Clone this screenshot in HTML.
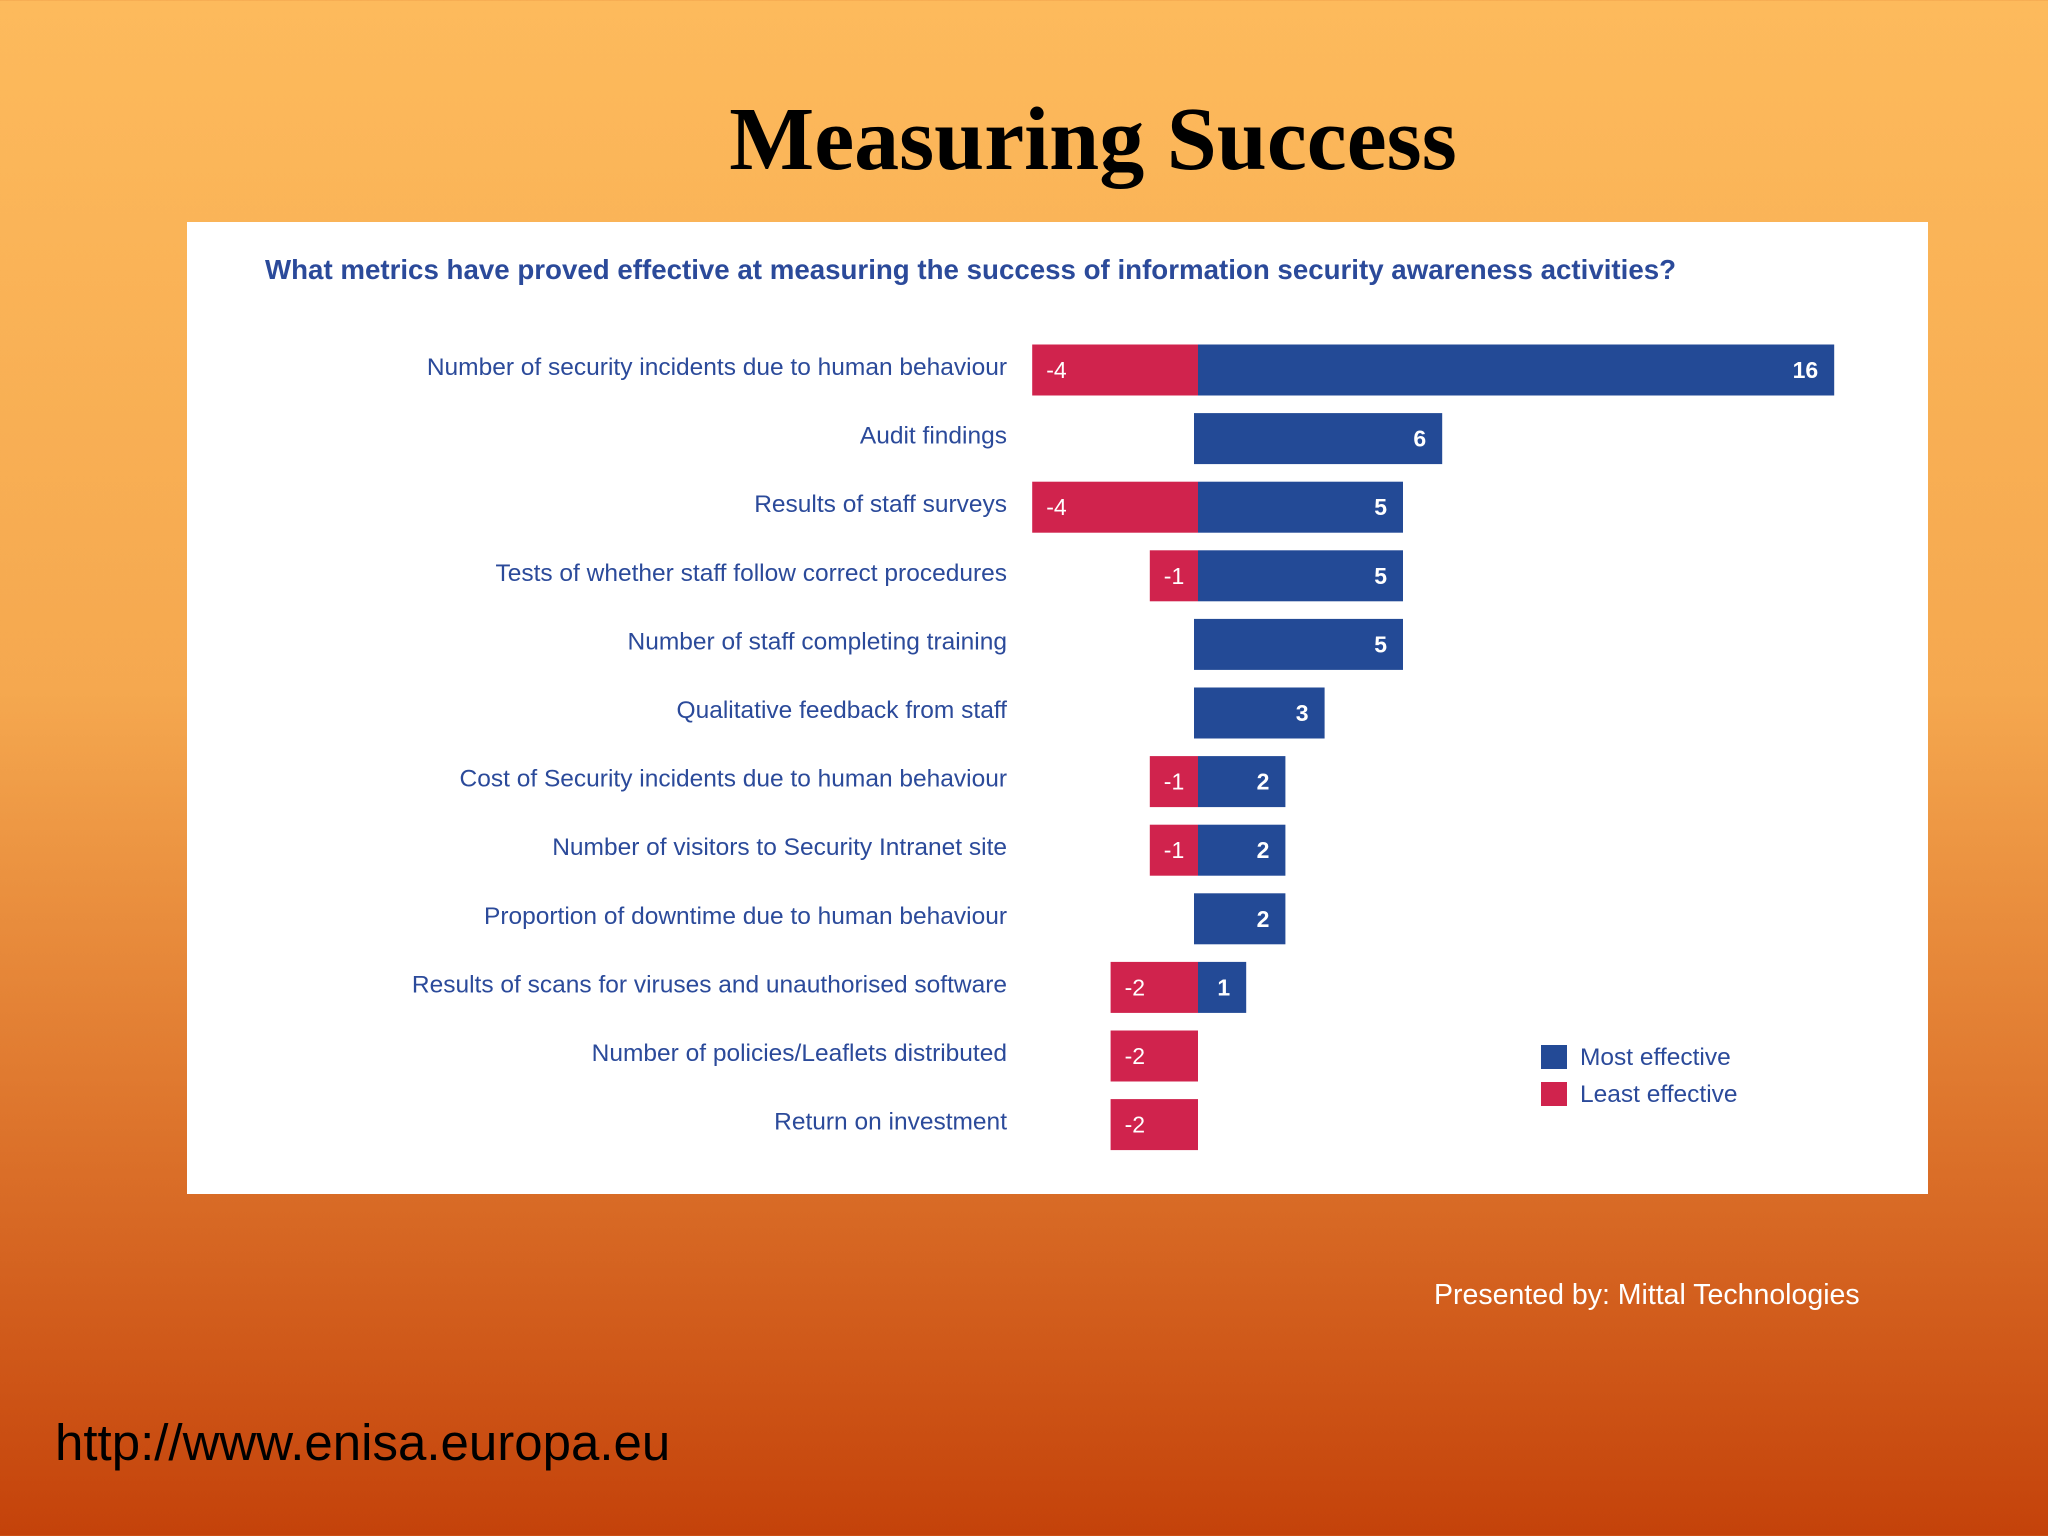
<!DOCTYPE html>
<html><head><meta charset="utf-8"><style>
html,body{margin:0;padding:0}
body{width:2048px;height:1536px;position:relative;overflow:hidden;font-family:"Liberation Sans",sans-serif;
background:linear-gradient(180deg,#fdba5c 0%,#f5a84f 45%,#e07a30 70%,#c4420a 100%)}
#title{position:absolute;left:0;width:2186px;top:88px;text-align:center;font-family:"Liberation Serif",serif;font-weight:bold;font-size:90px;color:#000}
#panel{position:absolute;left:187px;top:222px;width:1741px;height:972px;background:#fff}
#pres{position:absolute;left:1434px;top:1279px;font-size:28.5px;color:#fff}
#url{position:absolute;left:55px;top:1413px;font-size:51px;color:#000}
</style></head><body>
<div id="title">Measuring Success</div>
<div id="panel">
<svg id="chart" width="1741" height="972"></svg>
</div>
<div id="pres">Presented by: Mittal Technologies</div>
<div id="url">http://www.enisa.europa.eu</div>
<script>
const categories=["Number of security incidents due to human behaviour","Audit findings","Results of staff surveys","Tests of whether staff follow correct procedures","Number of staff completing training","Qualitative feedback from staff","Cost of Security incidents due to human behaviour","Number of visitors to Security Intranet site","Proportion of downtime due to human behaviour","Results of scans for viruses and unauthorised software","Number of policies/Leaflets distributed","Return on investment"];
const mostEffective=[16,6,5,5,5,3,2,2,2,1,0,0];
const leastEffective=[-4,0,-4,-1,0,0,-1,-1,0,-2,-2,-2];
const NS="http://www.w3.org/2000/svg";
const svg=document.getElementById('chart');
const ox=187, oy=222;
const x0=1198-ox, unit=39.2, pad=9;
const xs=v=>x0+v*unit+Math.sign(v)*pad;
const ys=i=>370-oy+i*68.6;
const bh=51;
function el(t,a){const e=document.createElementNS(NS,t);for(const k in a)e.setAttribute(k,a[k]);svg.appendChild(e);return e;}
let t=el('text',{x:265-ox,y:279-oy,'font-size':27.7,'font-weight':'bold',fill:'#2b4a9a','font-family':'Liberation Sans, sans-serif'});
t.textContent="What metrics have proved effective at measuring the success of information security awareness activities?";


categories.forEach((c,i)=>{
  const cy=ys(i);
  let l=el('text',{x:1007-ox,y:cy+5,'text-anchor':'end','font-size':24.5,fill:'#2b4a9a','font-family':'Liberation Sans, sans-serif'});
  l.textContent=c;
  
  
  if(leastEffective[i]<0){
    let r=el('rect',{x:xs(leastEffective[i]),y:cy-bh/2,width:x0-xs(leastEffective[i]),height:bh,fill:'#d0234d'});
    
    
    let v=el('text',{x:xs(leastEffective[i])+14,y:cy+8,'font-size':23,fill:'#fff','font-family':'Liberation Sans, sans-serif'});
    v.textContent=leastEffective[i];
    
    
  }
  if(mostEffective[i]>0){
    const start=leastEffective[i]<0?x0:x0-4;
    let r=el('rect',{x:start,y:cy-bh/2,width:xs(mostEffective[i])-start,height:bh,fill:'#234a96'});
    
    
    let v=el('text',{x:xs(mostEffective[i])-16,y:cy+8,'text-anchor':'end','font-size':23,'font-weight':'bold',fill:'#fff','font-family':'Liberation Sans, sans-serif'});
    v.textContent=mostEffective[i];
    
    
  }
});
const leg=[["Most effective","#234a96",1057],["Least effective","#d0234d",1094]];
leg.forEach(([n,c,y])=>{
  let s=el('rect',{x:1541-ox,y:y-oy-12,width:26,height:24,fill:c});
  
  
  let tx=el('text',{x:1580-ox,y:y-oy+8,'font-size':24.5,fill:'#2b4a9a','font-family':'Liberation Sans, sans-serif'});
  tx.textContent=n;
  
  
});
</script>
</body></html>
